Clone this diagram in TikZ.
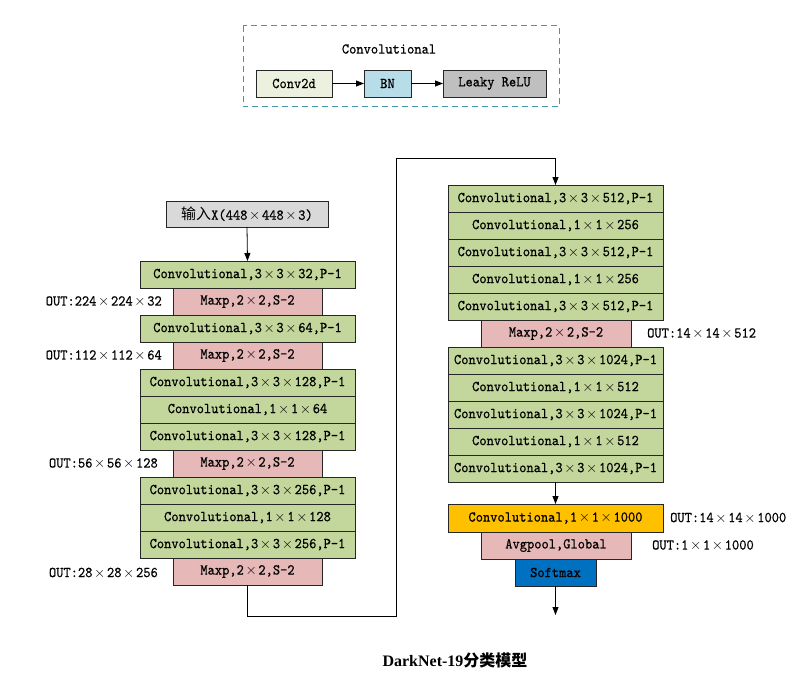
\documentclass[tikz,border=0pt]{standalone}
\usepackage{fontspec}
\setmainfont{Liberation Serif}
\newfontfamily\cjk{Noto Sans CJK SC}
\newfontfamily\mymono{lmmono10-regular.otf}[FakeStretch=0.92, RawFeature={embolden=0.6}]
\usetikzlibrary{arrows.meta}
\definecolor{convg}{HTML}{C3D69B}
\definecolor{maxpk}{HTML}{E6B9B8}
\definecolor{inpg}{HTML}{D9D9D9}
\definecolor{orng}{HTML}{FFC000}
\definecolor{sftb}{HTML}{0070C0}
\definecolor{lgreen}{HTML}{EBF1DE}
\definecolor{lblue}{HTML}{B7DDE8}
\definecolor{lgray}{HTML}{BFBFBF}
\definecolor{dashc}{RGB}{70,150,170}
\newcommand\mul{\makebox[0.97em]{$\times$}}
\tikzset{
  base/.style={draw=black!85, line width=0.7pt, inner sep=0pt, outer sep=0pt,
    font=\mymono\fontsize{15}{17}\selectfont},
  convbox/.style={base, fill=convg, minimum width=215pt, minimum height=27pt},
  maxbox/.style={base, fill=maxpk, minimum width=149pt, minimum height=27pt},
  lbl/.style={inner sep=0pt, font=\mymono\fontsize{15}{17}\selectfont},
  arr/.style={draw=black, line width=0.8pt, -{Triangle[length=8pt,width=6pt]}},
}
\begin{document}
\begin{tikzpicture}[x=1pt,y=-1pt]
\useasboundingbox (0,0) rectangle (805,674);
% legend
\draw[dashc, line width=1pt, dash pattern=on 6pt off 4pt] (243,26) rectangle (559,107);
\node[lbl] (lt) at (389,49) {Convolutional};
\node[base, fill=lgreen, minimum width=76pt, minimum height=27pt] (g1) at (294,83.5) {Conv2d};
\node[base, fill=lblue, minimum width=47pt, minimum height=27pt] (g2) at (387.5,83.5) {BN};
\node[base, fill=lgray, minimum width=103pt, minimum height=27pt] (g3) at (494.5,83.5) {Leaky ReLU};
\draw[arr] (g1.east) -- (g2.west);
\draw[arr] (g2.east) -- (g3.west);
% left column
\node[base, fill=inpg, minimum width=162pt, minimum height=26pt] (in) at (247,214) {{\cjk 输入}X(448\mul 448\mul 3)};
\node[convbox] (l1) at (247.5,274.5) {Convolutional,3\mul 3\mul 32,P-1};
\node[maxbox] (l2) at (247.5,301.5) {Maxp,2\mul 2,S-2};
\node[convbox] (l3) at (247.5,328.5) {Convolutional,3\mul 3\mul 64,P-1};
\node[maxbox] (l4) at (247.5,355.5) {Maxp,2\mul 2,S-2};
\node[convbox] (l5) at (247.5,382.5) {Convolutional,3\mul 3\mul 128,P-1};
\node[convbox] (l6) at (247.5,409.5) {Convolutional,1\mul 1\mul 64};
\node[convbox] (l7) at (247.5,436.5) {Convolutional,3\mul 3\mul 128,P-1};
\node[maxbox] (l8) at (247.5,463.5) {Maxp,2\mul 2,S-2};
\node[convbox] (l9) at (247.5,490.5) {Convolutional,3\mul 3\mul 256,P-1};
\node[convbox] (l10) at (247.5,517.5) {Convolutional,1\mul 1\mul 128};
\node[convbox] (l11) at (247.5,544.5) {Convolutional,3\mul 3\mul 256,P-1};
\node[maxbox] (l12) at (247.5,571.5) {Maxp,2\mul 2,S-2};
\draw[arr] (in.south) -- (l1.north);
\node[lbl, anchor=east] (o1) at (162,301.5) {OUT:224\mul 224\mul 32};
\node[lbl, anchor=east] (o2) at (162,355.5) {OUT:112\mul 112\mul 64};
\node[lbl, anchor=east] (o3) at (158,463.5) {OUT:56\mul 56\mul 128};
\node[lbl, anchor=east] (o4) at (158,573) {OUT:28\mul 28\mul 256};
% right column
\node[convbox] (r1) at (555.5,198.5) {Convolutional,3\mul 3\mul 512,P-1};
\node[convbox] (r2) at (555.5,225.5) {Convolutional,1\mul 1\mul 256};
\node[convbox] (r3) at (555.5,252.5) {Convolutional,3\mul 3\mul 512,P-1};
\node[convbox] (r4) at (555.5,279.5) {Convolutional,1\mul 1\mul 256};
\node[convbox] (r5) at (555.5,306.5) {Convolutional,3\mul 3\mul 512,P-1};
\node[maxbox, minimum width=150pt] (r6) at (556,333.5) {Maxp,2\mul 2,S-2};
\node[convbox] (r7) at (555.5,360.5) {Convolutional,3\mul 3\mul 1024,P-1};
\node[convbox] (r8) at (555.5,387.5) {Convolutional,1\mul 1\mul 512};
\node[convbox] (r9) at (555.5,414.5) {Convolutional,3\mul 3\mul 1024,P-1};
\node[convbox] (r10) at (555.5,441.5) {Convolutional,1\mul 1\mul 512};
\node[convbox] (r11) at (555.5,468.5) {Convolutional,3\mul 3\mul 1024,P-1};
\node[convbox, fill=orng, minimum height=28pt] (r12) at (555.5,518) {Convolutional,1\mul 1\mul 1000};
\node[maxbox, minimum width=150pt] (r13) at (556,545.5) {Avgpool,Global};
\node[base, fill=sftb, minimum width=81pt, minimum height=27pt] (r14) at (555.5,572.5) {Softmax};
\coordinate (endp) at (555.5,615);
\draw[arr] (r11.south) -- (r12.north);
\draw[arr] (r14.south) -- (endp);
\node[lbl, anchor=west] (o5) at (647,333.5) {OUT:14\mul 14\mul 512};
\node[lbl, anchor=west] (o6) at (670,518) {OUT:14\mul 14\mul 1000};
\node[lbl, anchor=west] (o7) at (652,545.5) {OUT:1\mul 1\mul 1000};
% link
\coordinate (k1) at (396,616);
\coordinate (k2) at (396,158);
\draw[arr] (l12.south) |- (k1) -- (k2) -| (r1.north);
% title
\node[inner sep=0pt, font=\bfseries\fontsize{16}{18}\selectfont] (title) at (455,660) {DarkNet-19{\cjk\bfseries 分类模型}};
\end{tikzpicture}
\end{document}
